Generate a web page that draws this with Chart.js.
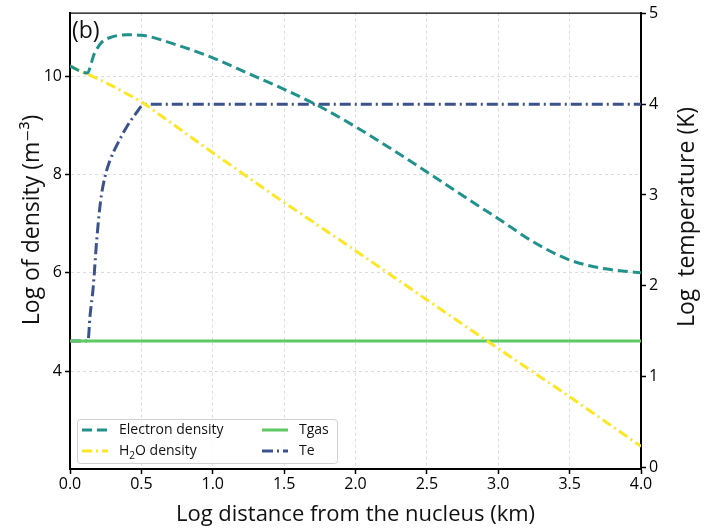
<!DOCTYPE html>
<html>
<head>
<meta charset="utf-8">
<script src="https://cdn.jsdelivr.net/npm/chart.js@4"></script>
<style>
  html, body { margin: 0; padding: 0; background: #fff; }
</style>
</head>
<body>
<canvas id="densityChart" width="705" height="528"></canvas>
<script>
// distance (log km) and values
const electronX = [0, 0.12, 0.17, 0.22, 0.3, 0.4, 0.5, 0.75, 1.0, 1.25, 1.5, 1.75, 2.0, 2.25, 2.5, 2.75, 3.0, 3.25, 3.5, 3.75, 4.0];
const electronY = [10.2, 10.06, 10.45, 10.68, 10.8, 10.84, 10.83, 10.63, 10.37, 10.05, 9.73, 9.38, 8.97, 8.52, 8.05, 7.57, 7.1, 6.62, 6.26, 6.08, 6.0];

const waterX = [0, 0.25, 0.5, 1.0, 1.5, 2.0, 2.5, 3.0, 3.5, 4.0];
const waterY = [10.2, 9.87, 9.48, 8.44, 7.43, 6.45, 5.45, 4.46, 3.48, 2.47];

const tgasX = [0, 4.0];
const tgasY = [1.39, 1.39];

const teX = [0, 0.126, 0.14, 0.163, 0.187, 0.215, 0.245, 0.28, 0.338, 0.397, 0.467, 0.51, 0.56, 4.0];
const teY = [1.39, 1.39, 1.66, 1.99, 2.5, 2.94, 3.2, 3.38, 3.58, 3.75, 3.91, 3.99, 4.0, 4.0];

const xTicks = [0, 0.5, 1.0, 1.5, 2.0, 2.5, 3.0, 3.5, 4.0];
const densityTicks = [4, 6, 8, 10];
const tempTicks = [0, 1, 2, 3, 4, 5];

const FONT = "'Open Sans', 'DejaVu Sans', sans-serif";

const pts = (xs, ys) => xs.map((x, i) => ({ x: x, y: ys[i] }));

// frame top line, panel label, vertical axis titles and legend
const extrasPlugin = {
    id: 'extras',
    afterDraw(chart) {
        const ctx = chart.ctx;
        const a = chart.chartArea;
        ctx.save();
        // top frame
        ctx.strokeStyle = '#000';
        ctx.lineWidth = 1.2;
        ctx.beginPath();
        ctx.moveTo(a.left, a.top + 0.5);
        ctx.lineTo(a.right, a.top + 0.5);
        ctx.stroke();

        // (b)
        ctx.fillStyle = '#111';
        ctx.font = '23px ' + FONT;
        ctx.textBaseline = 'middle';
        ctx.textAlign = 'left';
        ctx.fillText('(b)', a.left + 2, a.top + 19);

        // axis titles, both reading bottom to top
        ctx.font = '23px ' + FONT;
        ctx.textAlign = 'center';
        ctx.save();
        ctx.translate(32, 220);
        ctx.rotate(-Math.PI / 2);
        ctx.fillText('Log of density (m\u207B\u00B3)', 0, 0);
        ctx.restore();
        ctx.save();
        ctx.translate(687, 217);
        ctx.rotate(-Math.PI / 2);
        ctx.fillText('Log  temperature (K)', 0, 0);
        ctx.restore();
        ctx.textAlign = 'left';

        // legend box
        const bx = 77, by = 419, bw = 260, bh = 44;
        ctx.fillStyle = 'rgba(255,255,255,0.85)';
        ctx.strokeStyle = '#d0d0d0';
        ctx.lineWidth = 1;
        ctx.beginPath();
        ctx.roundRect(bx + 0.5, by + 0.5, bw, bh, 3);
        ctx.fill();
        ctx.stroke();

        const items = chart.data.datasets;
        const slots = [[82, 430], [82, 451], [262, 430], [262, 451]];
        items.forEach((ds, i) => {
            const [sx, sy] = slots[i];
            ctx.strokeStyle = ds.borderColor;
            ctx.lineWidth = 3;
            ctx.setLineDash(ds.borderDash || []);
            ctx.beginPath();
            ctx.moveTo(sx, sy);
            ctx.lineTo(sx + 26, sy);
            ctx.stroke();
            ctx.setLineDash([]);
            ctx.fillStyle = '#111';
            ctx.font = '14px ' + FONT;
            let tx = sx + 37;
            if (ds.label === 'H2O density') {
                ctx.fillText('H', tx, sy);
                tx += ctx.measureText('H').width;
                ctx.font = '10px ' + FONT;
                ctx.fillText('2', tx, sy + 5);
                tx += ctx.measureText('2').width;
                ctx.font = '14px ' + FONT;
                ctx.fillText('O density', tx, sy);
            } else {
                ctx.fillText(ds.label, tx, sy);
            }
        });
        ctx.restore();
    }
};

const ctx = document.getElementById('densityChart').getContext('2d');
const densityChart = new Chart(ctx, {
    type: 'line',
    data: {
        datasets: [{
            label: 'Electron density',
            data: pts(electronX, electronY),
            yAxisID: 'yDen',
            borderColor: '#21918c',
            borderDash: [10, 5],
            borderWidth: 3,
            cubicInterpolationMode: 'monotone'
        }, {
            label: 'H2O density',
            data: pts(waterX, waterY),
            yAxisID: 'yDen',
            borderColor: '#fde725',
            borderDash: [10, 4, 2, 4],
            borderWidth: 3,
            tension: 0
        }, {
            label: 'Tgas',
            data: pts(tgasX, tgasY),
            yAxisID: 'yTemp',
            borderColor: '#5ec962',
            borderWidth: 3
        }, {
            label: 'Te',
            data: pts(teX, teY),
            yAxisID: 'yTemp',
            borderColor: '#3b528b',
            borderDash: [11, 4, 2, 4],
            borderWidth: 3,
            cubicInterpolationMode: 'monotone'
        }]
    },
    options: {
        responsive: false,
        animation: false,
        layout: { padding: { top: 12, right: 0, left: 0, bottom: 0 } },
        elements: { point: { radius: 0 } },
        plugins: {
            legend: { display: false },
            tooltip: { enabled: false }
        },
        scales: {
            x: {
                type: 'linear',
                position: 'bottom',
                min: 0,
                max: 4,
                afterBuildTicks: s => { s.ticks = xTicks.map(v => ({ value: v })); },
                afterFit: s => { s.height = 59; },
                ticks: {
                    callback: v => v.toFixed(1),
                    font: { family: FONT, size: 16 },
                    color: '#000',
                    padding: 1
                },
                grid: { color: '#dcdcdc', tickColor: '#000', tickLength: 5, tickWidth: 1.5, tickBorderDash: [] },
                border: { color: '#000', width: 2, dash: [3, 3] },
                title: {
                    display: true,
                    text: 'Log distance from the nucleus (km)',
                    font: { family: FONT, size: 22 },
                    color: '#111',
                    padding: { top: 0, bottom: 0 }
                }
            },
            yDen: {
                type: 'linear',
                position: 'left',
                min: 2.01,
                max: 11.29,
                afterBuildTicks: s => { s.ticks = densityTicks.map(v => ({ value: v })); },
                afterFit: s => { s.width = 70; },
                ticks: {
                    font: { family: FONT, size: 16 },
                    color: '#000',
                    padding: 3
                },
                grid: { color: '#dcdcdc', tickColor: '#000', tickLength: 5, tickWidth: 1.5, tickBorderDash: [] },
                border: { color: '#000', width: 2, dash: [3, 3] }
            },
            yTemp: {
                type: 'linear',
                position: 'right',
                min: -0.022,
                max: 5.011,
                afterBuildTicks: s => { s.ticks = tempTicks.map(v => ({ value: v })); },
                afterFit: s => { s.width = 64; },
                ticks: {
                    font: { family: FONT, size: 16 },
                    color: '#000',
                    padding: 3
                },
                grid: { drawOnChartArea: false, color: '#000', tickColor: '#000', tickLength: 5, tickWidth: 1.5 },
                border: { color: '#000', width: 2 }
            }
        }
    },
    plugins: [extrasPlugin]
});
</script>
</body>
</html>
